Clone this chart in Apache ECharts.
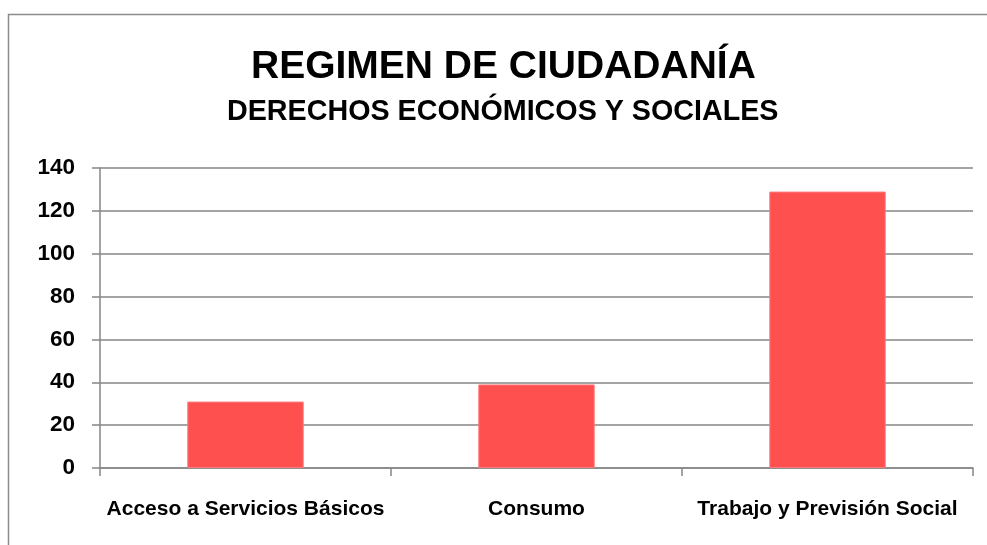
<!DOCTYPE html>
<html>
<head>
<meta charset="utf-8">
<script src="https://cdn.jsdelivr.net/npm/echarts@6/dist/echarts.min.js"></script>
<style>
html,body{margin:0;padding:0;background:#fff;}
#chart{width:987px;height:545px;}
</style>
</head>
<body>
<div id="chart"></div>
<script>
var chartTitle = 'REGIMEN DE CIUDADANÍA';
var chartSubtitle = 'DERECHOS ECONÓMICOS Y SOCIALES';
var categories = ['Acceso a Servicios Básicos', 'Consumo', 'Trabajo y Previsión Social'];
var values = [31, 39, 129];
var yTicks = [0, 20, 40, 60, 80, 100, 120, 140];

var FONT = '"Liberation Sans", Arial, sans-serif';
var chart = echarts.init(document.getElementById('chart'), null, {renderer: 'canvas'});
chart.setOption({
  animation: false,
  backgroundColor: '#ffffff',
  title: [
    {text: chartTitle, left: 246, top: 43,
     textStyle: {fontFamily: FONT, fontWeight: 'bold', fontSize: 39, color: '#000'}},
    {text: chartSubtitle, left: 222, top: 93,
     textStyle: {fontFamily: FONT, fontWeight: 'bold', fontSize: 28.7, color: '#000'}}
  ],
  graphic: [{
    type: 'rect', silent: true, z: -1,
    shape: {x: 8.5, y: 14.5, width: 1100, height: 700},
    style: {fill: 'none', stroke: '#8c8c8c', lineWidth: 1.5}
  }],
  grid: {left: 100, right: 14, top: 168, bottom: 77, containLabel: false},
  xAxis: {
    type: 'category',
    data: categories,
    axisLine: {lineStyle: {color: '#868686', width: 1.5}},
    axisTick: {show: true, alignWithLabel: false, length: 8, lineStyle: {color: '#868686', width: 1.5}},
    axisLabel: {fontFamily: FONT, fontWeight: 'bold', fontSize: 21, color: '#000', margin: 31, interval: 0}
  },
  yAxis: {
    type: 'value',
    min: yTicks[0], max: yTicks[yTicks.length - 1], interval: 20,
    axisLine: {show: true, lineStyle: {color: '#868686', width: 1.5}},
    axisTick: {show: true, length: 8, lineStyle: {color: '#868686', width: 1.5}},
    axisLabel: {fontFamily: FONT, fontWeight: 'bold', fontSize: 22.5, color: '#000', margin: 25},
    splitLine: {show: true, lineStyle: {color: '#868686', width: 1.5}}
  },
  series: [{
    type: 'bar',
    data: values,
    barWidth: '40%',
    itemStyle: {color: '#ff5050', borderColor: '#ff7a7c', borderWidth: 1}
  }]
});
</script>
</body>
</html>
